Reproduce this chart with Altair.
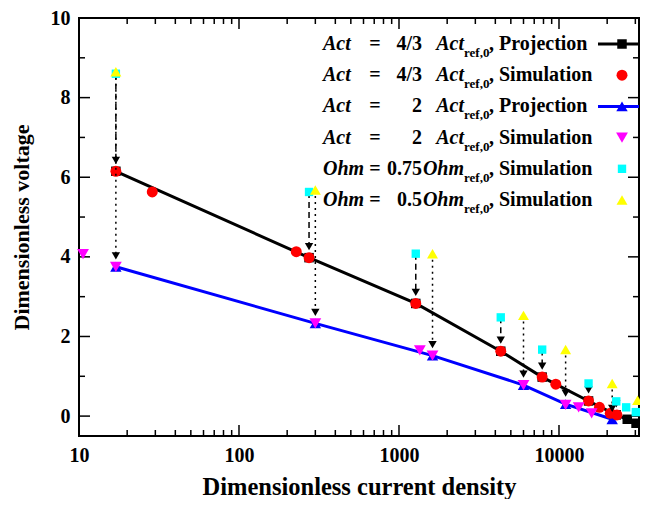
import altair as alt
import pandas as pd

# ---------------- data ----------------
# Act = 4/3 Act_ref,0 : projection (black) and simulation (red)
proj43_x = [17, 274, 1273, 4325, 7850, 15300, 22800, 26700, 30300]
proj43_y = [6.15, 3.98, 2.83, 1.63, 0.98, 0.38, 0.03, -0.08, -0.18]
sim43_x = [17, 28.7, 228, 274, 1273, 4325, 7850, 9550, 15300, 17900, 20900, 23000]
sim43_y = [6.15, 5.63, 4.13, 3.98, 2.83, 1.63, 0.98, 0.80, 0.38, 0.22, 0.07, 0.03]
# Act = 2 Act_ref,0 : projection (blue) and simulation (magenta)
proj2_x = [17, 300, 1620, 6000, 11000, 21500]
proj2_y = [3.75, 2.33, 1.52, 0.78, 0.30, -0.08]
sim2_x = [10.6, 17, 300, 1350, 1620, 6000, 11000, 13270, 16000]
sim2_y = [4.07, 3.75, 2.33, 1.65, 1.52, 0.78, 0.28, 0.22, 0.07]
# Ohm = 0.75 Ohm_ref,0 (cyan) and Ohm = 0.5 Ohm_ref,0 (yellow)
ohm75_x = [17, 274, 1273, 4325, 7850, 15300, 22800, 26300, 30200]
ohm75_y = [8.60, 5.63, 4.08, 2.48, 1.67, 0.82, 0.37, 0.22, 0.10]
ohm50_x = [17, 300, 1620, 6000, 11000, 21500, 31000]
ohm50_y = [8.65, 5.68, 4.08, 2.53, 1.67, 0.82, 0.40]
# arrows: cyan -> black projection (dashed), yellow -> blue projection (dotted)
n_dashed = 7
n_dotted = 6

x_labels = [10, 100, 1000, 10000]
y_labels = [0, 2, 4, 6, 8, 10]
y_minor = [1, 3, 5, 7, 9]

legend_first = ["Act", "Act", "Act", "Act", "Ohm", "Ohm"]
legend_value = ["4/3", "4/3", "2", "2", "0.75", "0.5"]
legend_kind = [", Projection", ", Simulation", ", Projection", ", Simulation",
               ", Simulation", ", Simulation"]

# ---------------- styling ----------------
W, H = 560, 418
TOP = 10
FONT = "Liberation Serif"
xs = alt.Scale(type="log", domain=[10, 31623], nice=False)
ys = alt.Scale(domain=[-0.5, 10], nice=False, zero=False)

x_axis = alt.Axis(values=x_labels, format="d", title="Dimensionless current density",
                  ticks=False, domain=False, grid=False, labelFlush=False,
                  labelPadding=9, titlePadding=10, titleFontSize=24.5)
y_axis = alt.Axis(values=y_labels, format="d", title="Dimensionless voltage",
                  ticks=False, domain=False, grid=False, labelFlush=False,
                  labelPadding=9, titlePadding=17, titleFontSize=22)

STY = {
    "proj43": dict(shape="square", color="black", size=90),
    "sim43": dict(shape="circle", color="#ff0000", size=120),
    "proj2": dict(shape="triangle-up", color="#0000ff", size=130),
    "sim2": dict(shape="triangle-down", color="#ff00ff", size=140),
    "ohm75": dict(shape="square", color="#00ffff", size=70),
    "ohm50": dict(shape="triangle-up", color="#ffff00", size=120),
}
legend_keys = ["proj43", "sim43", "proj2", "sim2", "ohm75", "ohm50"]
legend_line = {"proj43": "black", "proj2": "#0000ff"}


def df(x, y):
    return pd.DataFrame({"x": x, "y": y})


def X(field="x"):
    return alt.X(f"{field}:Q", scale=xs, axis=x_axis)


def Y(field="y"):
    return alt.Y(f"{field}:Q", scale=ys, axis=y_axis)


def points(x, y, key):
    s = STY[key]
    return alt.Chart(df(x, y)).mark_point(
        shape=s["shape"], color=s["color"], size=s["size"], filled=True,
        opacity=1, strokeWidth=0, clip=False
    ).encode(x=X(), y=Y())


layers = []

# inside ticks on all four sides
x_minor = [m * 10 ** k for k in range(1, 5) for m in range(2, 10) if m * 10 ** k <= 31623]
for vals, L in ((x_labels, 11), (x_minor, 6)):
    d = pd.DataFrame({"x": vals})
    layers.append(alt.Chart(d).mark_rule(color="black", strokeWidth=1.5).encode(
        x=X(), y=alt.value(H), y2=alt.value(H - L)))
    layers.append(alt.Chart(d).mark_rule(color="black", strokeWidth=1.5).encode(
        x=X(), y=alt.value(0), y2=alt.value(L)))
for vals, L in ((y_labels, 11), (y_minor, 6)):
    d = pd.DataFrame({"y": vals})
    layers.append(alt.Chart(d).mark_rule(color="black", strokeWidth=1.5).encode(
        y=Y(), x=alt.value(0), x2=alt.value(L)))
    layers.append(alt.Chart(d).mark_rule(color="black", strokeWidth=1.5).encode(
        y=Y(), x=alt.value(W), x2=alt.value(W - L)))

# projection lines
layers.append(alt.Chart(df(proj43_x, proj43_y)).mark_line(color="black", strokeWidth=3).encode(x=X(), y=Y()))
layers.append(alt.Chart(df(proj2_x, proj2_y)).mark_line(color="#0000ff", strokeWidth=3).encode(x=X(), y=Y()))
layers.append(points(proj43_x, proj43_y, "proj43"))
layers.append(points(proj2_x, proj2_y, "proj2"))
layers.append(points(sim43_x, sim43_y, "sim43"))
layers.append(points(sim2_x, sim2_y, "sim2"))

# arrows
dash_df = pd.DataFrame({"x": ohm75_x[:n_dashed], "y": ohm75_y[:n_dashed], "y2": proj43_y[:n_dashed]})
dot_df = pd.DataFrame({"x": ohm50_x[:n_dotted], "y": ohm50_y[:n_dotted], "y2": proj2_y[:n_dotted]})
for d, dash in ((dash_df, [6, 4]), (dot_df, [2, 4])):
    layers.append(alt.Chart(d).mark_rule(color="black", strokeWidth=1.5, strokeDash=dash, y2Offset=-12).encode(
        x=X(), y=Y(), y2="y2:Q"))
    layers.append(alt.Chart(d).mark_point(shape="triangle-down", filled=True, color="black", size=70,
                                          opacity=1, yOffset=-11).encode(
        x=X(), y=Y("y2")))

layers.append(points(ohm75_x, ohm75_y, "ohm75"))
layers.append(points(ohm50_x, ohm50_y, "ohm50"))

# legend (manual, to allow italic + subscript)
one = pd.DataFrame({"t": [""]})


def txt(s, x, y, align, style="normal", size=20):
    return alt.Chart(pd.DataFrame({"t": [s]})).mark_text(
        font=FONT, fontWeight="bold", fontStyle=style, fontSize=size, align=align,
        baseline="middle", color="black").encode(x=alt.value(x), y=alt.value(y), text="t:N")


for i in range(6):
    yy = 26 + i * 31.2
    layers.append(txt(legend_first[i], 244, yy, "left", "italic"))
    layers.append(txt("=", 296, yy, "center"))
    layers.append(txt(legend_value[i], 343, yy, "right"))
    layers.append(txt(legend_first[i], 385, yy, "right", "italic"))
    layers.append(txt("ref,0", 385, yy + 9, "left", size=13))
    layers.append(txt(legend_kind[i], 410, yy, "left"))
    key = legend_keys[i]
    if key in legend_line:
        layers.append(alt.Chart(one).mark_rule(color=legend_line[key], strokeWidth=3).encode(
            x=alt.value(519), x2=alt.value(W), y=alt.value(yy)))
    s = STY[key]
    layers.append(alt.Chart(one).mark_point(shape=s["shape"], color=s["color"], size=s["size"],
                                            filled=True, opacity=1, strokeWidth=0).encode(
        x=alt.value(543), y=alt.value(yy)))

chart = alt.layer(*layers).properties(
    width=W, height=H,
    padding={"left": 71, "top": TOP, "right": 1, "bottom": 491 - TOP - H},
    autosize=alt.AutoSizeParams(type="none"),
    background="white",
).configure_view(
    stroke="black", strokeWidth=2
).configure_axis(
    labelFont=FONT, labelFontWeight="bold", labelFontSize=20, labelColor="black",
    titleFont=FONT, titleFontWeight="bold", titleColor="black",
)

chart.save("out.html", embed_options={"renderer": "svg", "actions": False})
